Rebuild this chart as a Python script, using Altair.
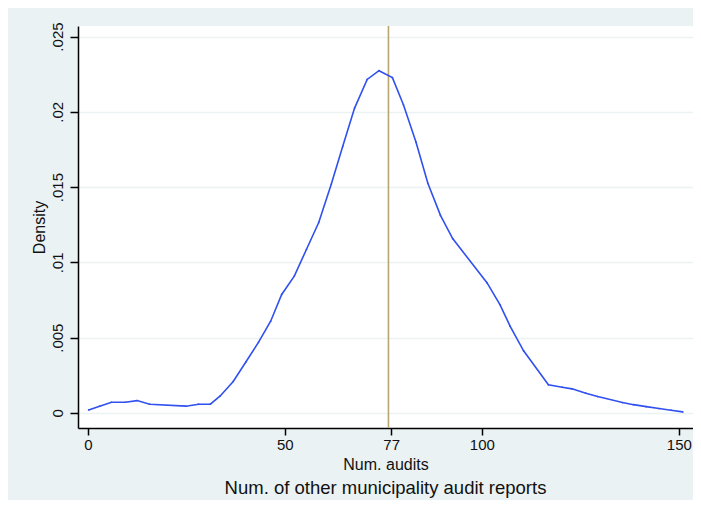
import altair as alt
import pandas as pd

# Kernel density estimate
num_audits = [0.2, 3.0, 6.0, 9.5, 12.5, 15.7, 24.9, 28.1, 31.1, 33.6, 36.9, 40.1, 43.3,
              46.4, 49.2, 52.4, 55.5, 58.6, 61.8, 64.7, 67.7, 70.9, 73.9, 77.3, 80.1,
              83.3, 86.3, 89.5, 92.6, 101.3, 104.6, 107.2, 110.6, 116.9, 120.4, 122.9,
              126.4, 129.4, 135.7, 138.5, 141.7, 145.0, 148.0, 151.0]
density = [0.00020, 0.00045, 0.00071, 0.00071, 0.00082, 0.00058, 0.00045, 0.00058,
           0.00058, 0.00113, 0.00209, 0.00338, 0.00469, 0.00609, 0.00787, 0.00909,
           0.01087, 0.01265, 0.01520, 0.01771, 0.02025, 0.02215, 0.02273, 0.02227,
           0.02047, 0.01798, 0.01525, 0.01312, 0.01158, 0.00865, 0.00720, 0.00575,
           0.00413, 0.00187, 0.00171, 0.00160, 0.00131, 0.00109, 0.00069, 0.00055,
           0.00042, 0.00029, 0.00018, 0.00007]
x_ticks = [0, 50, 77, 100, 150]
y_ticks = [0, 0.005, 0.01, 0.015, 0.02, 0.025]
mean_line = [76.3]

df = pd.DataFrame({"x": num_audits, "y": density})
vdf = pd.DataFrame({"x": mean_line})

FONT = "Liberation Sans"

xscale = alt.Scale(domain=[-2.5, 153.6], nice=False, zero=False)
yscale = alt.Scale(domain=[-0.001, 0.0257], nice=False, zero=False)

xaxis = alt.Axis(values=x_ticks, title="Num. audits", grid=False, domainColor="black",
                 domainWidth=1.5, tickColor="black", tickWidth=1.5, tickSize=7,
                 labelFontSize=15, titleFontSize=16, titleFontWeight="normal",
                 labelColor="#111", titleColor="#111", labelPadding=2, titlePadding=4,
                 labelFont=FONT, titleFont=FONT)
yaxis = alt.Axis(values=y_ticks, title="Density", grid=True, gridColor="#eaf2f3",
                 gridWidth=1.5, domainColor="black", domainWidth=1.5, tickColor="black",
                 tickWidth=1.5, tickSize=8, labelFontSize=15, titleFontSize=16,
                 titleFontWeight="normal", labelColor="#111", titleColor="#111",
                 labelAngle=270, labelAlign="center", labelBaseline="bottom",
                 labelPadding=5, titlePadding=3, labelFont=FONT, titleFont=FONT,
                 labelExpr="datum.value == 0 ? '0' : substring(format(datum.value, '.3~f'), 1)")

line = alt.Chart(df).mark_line(color="#3050f0", strokeWidth=1.6, clip=True).encode(
    x=alt.X("x:Q", scale=xscale, axis=xaxis),
    y=alt.Y("y:Q", scale=yscale, axis=yaxis),
)
pts = alt.Chart(df).mark_point(color="#3050f0", size=3, filled=True, opacity=1).encode(
    x=alt.X("x:Q", scale=xscale),
    y=alt.Y("y:Q", scale=yscale),
)
vline = alt.Chart(vdf).mark_rule(color="#b9a66f", strokeWidth=1.6).encode(
    x=alt.X("x:Q", scale=xscale),
)

chart = alt.layer(vline, line, pts).properties(
    width=615, height=402,
    autosize=alt.AutoSizeParams(type="none"),
    padding={"left": 70, "top": 18, "right": 0, "bottom": 72},
    background="#eaf2f3",
    title=alt.TitleParams("Num. of other municipality audit reports", orient="bottom",
                          fontSize=18.5, fontWeight="normal", font=FONT, color="#111",
                          offset=7, anchor="middle"),
).configure_view(fill="white", strokeWidth=0)

chart.save("out.html", embed_options={"renderer": "svg", "actions": False})
